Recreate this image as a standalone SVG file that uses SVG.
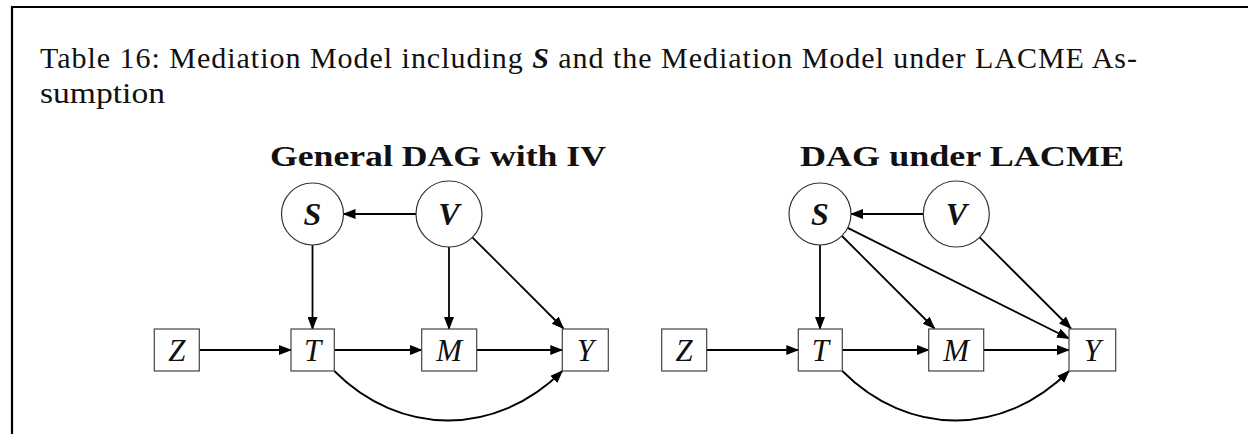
<svg xmlns="http://www.w3.org/2000/svg" width="1248" height="434" viewBox="0 0 1248 434">
<style>
.cap{font-family:"Liberation Serif","DejaVu Serif",serif;font-size:30px;fill:#111}
.ttl{font-family:"Liberation Serif","DejaVu Serif",serif;font-size:30px;font-weight:bold;fill:#111}
.lbl{font-family:"Liberation Serif","DejaVu Serif",serif;font-size:31px;font-style:italic;fill:#111;text-anchor:middle}
.blbl{font-family:"Liberation Serif","DejaVu Serif",serif;font-size:32px;font-style:italic;font-weight:bold;fill:#111;text-anchor:middle}
.box{fill:#fff;stroke:#444;stroke-width:1.2}
.circ{fill:#fff;stroke:#333;stroke-width:1.2}
.edge{fill:none;stroke:#000;stroke-width:1.8;marker-end:url(#ah)}
</style>
<defs>
<marker id="ah" viewBox="0 0 13 10" refX="12" refY="5" markerWidth="13" markerHeight="10" markerUnits="userSpaceOnUse" orient="auto">
<path d="M0,0 L13,5 L0,10 Z" fill="#000"/>
</marker>
</defs>
<rect width="1248" height="434" fill="#fff"/>
<path d="M12,434 L12,7 L1248,7" fill="none" stroke="#000" stroke-width="2.2"/>
<text class="cap" x="40" y="68" textLength="1097" lengthAdjust="spacing">Table 16: Mediation Model including <tspan font-weight="bold" font-style="italic">S</tspan> and the Mediation Model under LACME As-</text>
<text class="cap" x="40" y="103" textLength="125" lengthAdjust="spacingAndGlyphs">sumption</text>
<text class="ttl" x="270" y="166" textLength="336" lengthAdjust="spacingAndGlyphs">General DAG with IV</text>
<text class="ttl" x="800" y="166" textLength="324" lengthAdjust="spacingAndGlyphs">DAG under LACME</text>
<g id="connectors">
<line class="edge" x1="416.5" y1="214" x2="343.5" y2="214"/>
<line class="edge" x1="312.5" y1="245" x2="312.5" y2="329"/>
<line class="edge" x1="449" y1="247" x2="449" y2="329"/>
<line class="edge" x1="472.3" y1="237.3" x2="563.5" y2="328.5"/>
<line class="edge" x1="199.3" y1="350" x2="291" y2="350"/>
<line class="edge" x1="334.3" y1="350" x2="421.7" y2="350"/>
<line class="edge" x1="476.7" y1="350" x2="562.3" y2="350"/>
<path class="edge" d="M334.3,371 C400,437 496,437 562.3,371"/>
<line class="edge" x1="923.3" y1="214" x2="851" y2="214"/>
<line class="edge" x1="820" y1="245" x2="820" y2="329"/>
<line class="edge" x1="842" y1="236" x2="934.5" y2="328.5"/>
<line class="edge" x1="847.7" y1="227.9" x2="1069" y2="338.5"/>
<line class="edge" x1="979.6" y1="237.3" x2="1071" y2="328.5"/>
<line class="edge" x1="706.7" y1="350" x2="798.3" y2="350"/>
<line class="edge" x1="842.3" y1="350" x2="928.7" y2="350"/>
<line class="edge" x1="983.7" y1="350" x2="1069" y2="350"/>
<path class="edge" d="M842.3,371 C908,437 1003,437 1069,371"/>
</g>
<g id="L_S"><circle class="circ" cx="312.5" cy="214" r="31"/><text class="blbl" x="312.5" y="225">S</text></g>
<g id="L_V"><circle class="circ" cx="449" cy="214" r="33"/><text class="blbl" x="449" y="225">V</text></g>
<g id="L_Z"><rect class="box" x="154.3" y="329" width="45" height="42"/><text class="lbl" x="176.8" y="361">Z</text></g>
<g id="L_T"><rect class="box" x="291" y="329" width="43.3" height="42"/><text class="lbl" x="312.6" y="361">T</text></g>
<g id="L_M"><rect class="box" x="421.7" y="329" width="55" height="42"/><text class="lbl" x="449.2" y="361">M</text></g>
<g id="L_Y"><rect class="box" x="562.3" y="329" width="46" height="42"/><text class="lbl" x="585.3" y="361">Y</text></g>
<g id="R_S"><circle class="circ" cx="820" cy="214" r="31"/><text class="blbl" x="820" y="225">S</text></g>
<g id="R_V"><circle class="circ" cx="956.3" cy="214" r="33"/><text class="blbl" x="956.3" y="225">V</text></g>
<g id="R_Z"><rect class="box" x="661.7" y="329" width="45" height="42"/><text class="lbl" x="684.2" y="361">Z</text></g>
<g id="R_T"><rect class="box" x="798.3" y="329" width="44" height="42"/><text class="lbl" x="820.3" y="361">T</text></g>
<g id="R_M"><rect class="box" x="928.7" y="329" width="55" height="42"/><text class="lbl" x="956.2" y="361">M</text></g>
<g id="R_Y"><rect class="box" x="1069" y="329" width="46.7" height="42"/><text class="lbl" x="1092.3" y="361">Y</text></g>
</svg>
